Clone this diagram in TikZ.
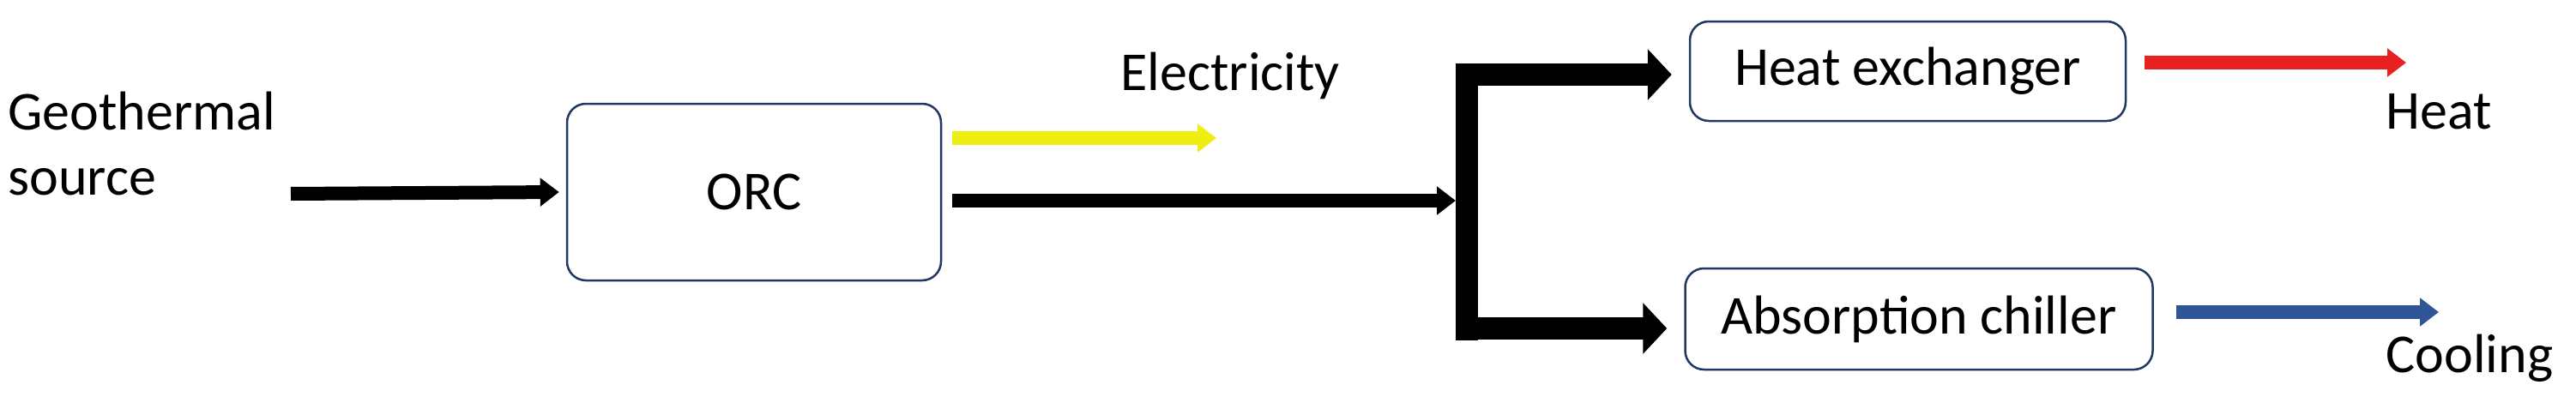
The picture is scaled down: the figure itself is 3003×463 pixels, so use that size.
\documentclass[tikz,border=0pt]{standalone}
\usepackage{fontspec}
\setmainfont{Carlito}
\usetikzlibrary{arrows.meta}
\definecolor{bord}{HTML}{203864}
\definecolor{yel}{HTML}{EEEE10}
\definecolor{redc}{HTML}{E82020}
\definecolor{bluc}{HTML}{2F5597}
\begin{document}
\begin{tikzpicture}[x=1pt,y=-1pt,
  box/.style={draw=bord,line width=2.5pt,rounded corners=22pt,inner sep=0pt},
  lbl/.style={font=\fontsize{64}{76}\selectfont},
  thin/.style={line width=16pt,-{Triangle[length=22pt,width=32pt]}},
  fat/.style={line width=26pt,-{Triangle[length=28pt,width=58pt]}}]
\useasboundingbox (0,0) rectangle (3003,463);
\node[box,minimum width=436pt,minimum height=206pt,lbl] (orc) at (879,224) {ORC};
\node[box,minimum width=508pt,minimum height=116pt,lbl] (hx) at (2224,83) {Heat exchanger};
\node[box,minimum width=545pt,minimum height=118pt,lbl] (ac) at (2237,372) {Absorption chiller};
\node[lbl,anchor=west,align=left] (geo) at (6,168) {Geothermal\\source};
\node[lbl,anchor=west] (el) at (1303,88) {Electricity};
\node[lbl,anchor=west] (ht) at (2778,130) {Heat};
\node[lbl,anchor=west] (co) at (2778,418) {Cooling};
\coordinate (gs) at (339,226);
\coordinate (ys) at (1110,161);
\coordinate (ye) at (1418,161);
\coordinate (bt) at (1710,77);
\coordinate (bb) at (1710,397);
\coordinate (ms) at (1110,234);
\coordinate (me) at (1697,234);
\coordinate (rs) at (2500,73);
\coordinate (re) at (2805,73);
\coordinate (bs) at (2537,364);
\coordinate (be) at (2843,364);
\draw[thin,black] (gs) -- ([xshift=-8pt]orc.west);
\draw[thin,yel] (ys) -- (ye);
\draw[thin,black] (ms) -- (me);
\draw[line width=26pt,black] (bt) -- (bb);
\draw[fat,black] (1697,87) -- ([xshift=-20pt]hx.west |- 0,87);
\draw[fat,black] (1697,383) -- ([xshift=-20pt]ac.west |- 0,383);
\draw[thin,redc] (rs) -- (re);
\draw[thin,bluc] (bs) -- (be);
\end{tikzpicture}
\end{document}
